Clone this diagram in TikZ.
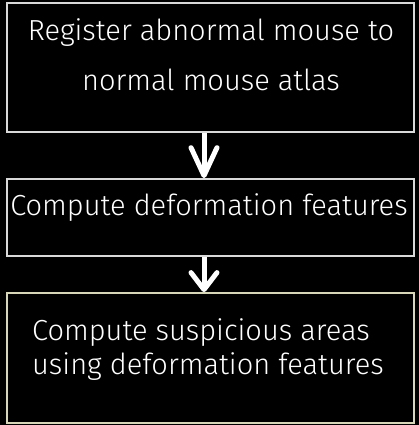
\documentclass[tikz,border=0pt]{standalone}
\usepackage{fontspec}
\setmainfont{Fira Sans Light}
\usetikzlibrary{arrows.meta,calc}
\tikzset{
  stepbox/.style={draw=#1, line width=1.8pt, fill=black, rectangle,
    minimum width=407pt, inner sep=0pt},
  stepbox/.default={black!15},
  steptext/.style={text=white, inner sep=0pt, font=\fontsize{29}{34}\selectfont},
  flowarrow/.style={draw=white, line width=5pt, line cap=butt,
    -{Straight Barb[length=#1,width=26pt,line width=5pt,round]}},
  flowarrow/.default=28pt,
}
\begin{document}
\begin{tikzpicture}[x=1pt,y=-1pt]
  \useasboundingbox[fill=black] (0,0) rectangle (419,425);
  % boxes
  \node[stepbox, minimum height=129pt] (b1) at (210.5,67.5) {};
  \node[stepbox, minimum height=77pt]  (b2) at (210.5,217.5) {};
  \node[stepbox={black!15!yellow!20!white!85!black}, minimum height=130pt] (b3) at (210.5,358) {};
  % texts
  \node[steptext] (t1a) at (211,33) {Register abnormal mouse to};
  \node[steptext] (t1b) at (211,80) {normal mouse atlas};
  \node[steptext] (t2)  at (209,208) {Compute deformation features};
  \node[steptext, anchor=west] (t3a) at (32,333) {Compute suspicious areas};
  \node[steptext, anchor=west] (t3b) at (32,367) {using deformation features};
  % connectors
  \draw[flowarrow] ([xshift=-6.5pt]b1.south) -- ([xshift=-6.5pt]b2.north);
  \draw[flowarrow=17pt] ([xshift=-6.5pt]b2.south) -- ([xshift=-6.5pt]b3.north);
\end{tikzpicture}
\end{document}
